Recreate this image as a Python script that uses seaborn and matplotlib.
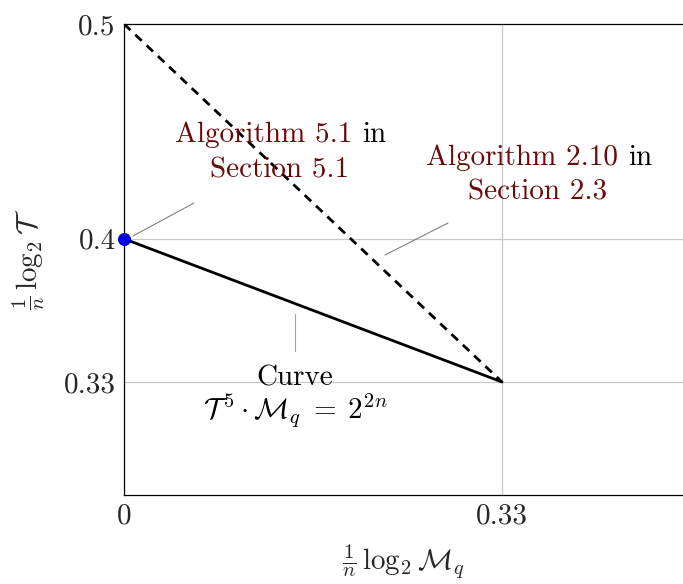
import matplotlib
matplotlib.use("Agg")
import matplotlib.pyplot as plt
import seaborn as sns
import pandas as pd

# Data
x_upper = [0.0, 1/3]
y_upper = [0.5, 1/3]
x_curve = [0.0, 1/3]
y_curve = [0.4, 1/3]
pt_x = [0.0]
pt_y = [0.4]
xtick_vals = [0.0, 1/3]
xtick_labels = ["0", "0.33"]
ytick_vals = [1/3, 0.4, 0.5]
ytick_labels = ["0.33", "0.4", "0.5"]

sns.set_theme(style="white")
plt.rcParams["font.family"] = ["cmr10", "DejaVu Serif"]
plt.rcParams["mathtext.fontset"] = "cm"
plt.rcParams["axes.unicode_minus"] = False

fig = plt.figure(figsize=(6.83, 5.84), dpi=100)
ax = fig.add_axes([124/683, 1-495/584, 1-124/683, (495-24)/584])

def px(x):
    return (x-124)/1134.0
def py(y):
    return 0.5 - (y-24)/2148.0

# grid lines
for gx in [1/3]:
    ax.axvline(gx, color="#c8c8c8", lw=0.9, zorder=0)
for gy in [1/3, 0.4]:
    ax.axhline(gy, color="#c8c8c8", lw=0.9, zorder=0)

df_u = pd.DataFrame({"x": x_upper, "y": y_upper})
df_c = pd.DataFrame({"x": x_curve, "y": y_curve})
sns.lineplot(data=df_u, x="x", y="y", ax=ax, color="black", lw=2.0,
             linestyle=(0, (3.2, 2.4)), zorder=3)
sns.lineplot(data=df_c, x="x", y="y", ax=ax, color="black", lw=2.0, zorder=3)
sns.scatterplot(x=pt_x, y=pt_y, ax=ax, color="#0000e0", s=75, edgecolor="#0000e0",
                zorder=5, clip_on=False)

ax.set_xlim(0, (683-124)/1134.0)
ax.set_ylim(py(495), 0.5)
ax.set_xticks(xtick_vals)
ax.set_xticklabels(xtick_labels)
ax.set_yticks(ytick_vals)
ax.set_yticklabels(ytick_labels)
ax.tick_params(length=0, labelsize=21, pad=6)
for s in ["left", "bottom", "top"]:
    ax.spines[s].set_color("black")
    ax.spines[s].set_linewidth(0.9)
ax.spines["right"].set_visible(False)

ax.set_xlabel(r"$\frac{1}{n}\,\log_2\mathcal{M}_q$", fontsize=21, labelpad=9)
ax.set_ylabel(r"$\frac{1}{n}\,\log_2\mathcal{T}$", fontsize=21, labelpad=12)

red = "#680a0a"
fs = 21
# annotation 1
ax.text(px(352), py(135), "Algorithm 5.1", color=red, fontsize=fs, ha="right", va="center")
ax.text(px(362), py(135), "in", color="black", fontsize=fs, ha="left", va="center")
ax.text(px(280), py(170), "Section 5.1", color=red, fontsize=fs, ha="center", va="center")
ax.plot([px(133), px(194)], [py(236), py(203)], color="#808080", lw=0.8, zorder=2)

# annotation 2
ax.text(px(618), py(158), "Algorithm 2.10", color=red, fontsize=fs, ha="right", va="center")
ax.text(px(628), py(158), "in", color="black", fontsize=fs, ha="left", va="center")
ax.text(px(538), py(192), "Section 2.3", color=red, fontsize=fs, ha="center", va="center")
ax.plot([px(385), px(448)], [py(255), py(223)], color="#808080", lw=0.8, zorder=2)

# annotation 3
ax.text(px(295), py(378), "Curve", color="black", fontsize=fs, ha="center", va="center")
ax.text(px(295), py(410), r"$\mathcal{T}^{\,5}\cdot\mathcal{M}_q\;=\;2^{2n}$", color="black",
        fontsize=fs, ha="center", va="center")
ax.plot([px(295), px(295)], [py(314), py(351)], color="#a0a0a0", lw=0.8, zorder=2)

fig.savefig("out.png", dpi=100)
